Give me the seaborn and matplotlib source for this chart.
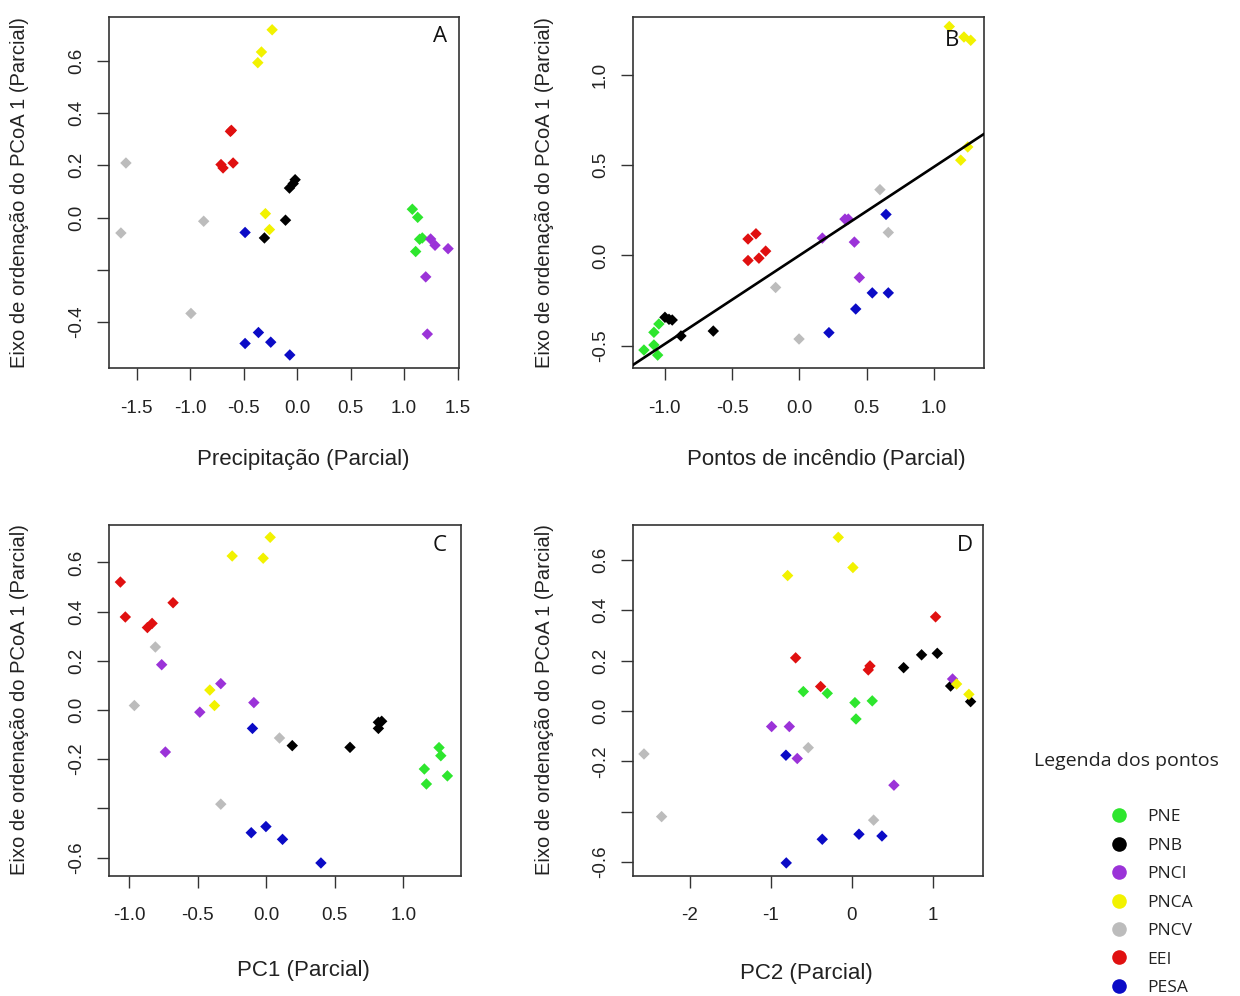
import matplotlib
matplotlib.use("Agg")
import matplotlib.pyplot as plt
from matplotlib.lines import Line2D
import pandas as pd
import seaborn as sns

# Sites (sampling areas) and their colours
SITES = ["PNE", "PNB", "PNCI", "PNCA", "PNCV", "EEI", "PESA"]
SITE_COLORS = ["#2ee62e", "#000000", "#9b33d8", "#f2f200", "#bcbcbc", "#e01010", "#0b0bc6"]
SITE_N = [5, 5, 5, 5, 4, 5, 5]

# Partial residuals, samples ordered PNE, PNB, PNCI, PNCA, PNCV, EEI, PESA
PREC_X = [1.077, 1.127, 1.145, 1.170, 1.108,
          -0.019, -0.037, -0.072, -0.109, -0.306,
          1.248, 1.289, 1.411, 1.202, 1.217,
          -0.234, -0.334, -0.368, -0.297, -0.259,
          -1.601, -0.874, -1.648, -0.993,
          -0.624, -0.615, -0.599, -0.712, -0.693,
          -0.487, -0.362, -0.487, -0.247, -0.069]
PREC_Y = [0.032, 0.001, -0.083, -0.078, -0.130,
          0.145, 0.130, 0.113, -0.010, -0.078,
          -0.082, -0.106, -0.119, -0.227, -0.446,
          0.719, 0.634, 0.593, 0.015, -0.046,
          0.209, -0.014, -0.059, -0.367,
          0.330, 0.334, 0.209, 0.203, 0.190,
          -0.057, -0.440, -0.482, -0.477, -0.526]

FIRE_X = [-1.154, -1.080, -1.052, -1.080, -1.043,
          -0.998, -0.968, -0.944, -0.879, -0.639,
          0.171, 0.339, 0.364, 0.409, 0.446,
          1.114, 1.223, 1.273, 1.199, 1.251,
          0.599, 0.661, -0.176, -0.002,
          -0.381, -0.322, -0.381, -0.300, -0.250,
          0.644, 0.542, 0.661, 0.419, 0.220]
FIRE_Y = [-0.523, -0.495, -0.551, -0.425, -0.379,
          -0.342, -0.353, -0.357, -0.445, -0.418,
          0.096, 0.201, 0.201, 0.074, -0.122,
          1.266, 1.208, 1.190, 0.527, 0.600,
          0.364, 0.127, -0.177, -0.462,
          0.091, 0.120, -0.028, -0.015, 0.024,
          0.227, -0.207, -0.207, -0.296, -0.427]
FIRE_FIT = (0.0, 0.49)  # intercept, slope of the partial regression line

PC1_X = [1.260, 1.273, 1.153, 1.321, 1.168,
         0.190, 0.611, 0.818, 0.842, 0.818,
         -0.762, -0.331, -0.484, -0.090, -0.735,
         0.029, -0.248, -0.022, -0.411, -0.377,
         -0.808, -0.961, 0.097, -0.331,
         -1.063, -1.027, -0.866, -0.832, -0.679,
         -0.100, -0.109, -0.002, 0.119, 0.399]
PC1_Y = [-0.153, -0.186, -0.240, -0.268, -0.301,
         -0.145, -0.152, -0.050, -0.046, -0.075,
         0.184, 0.107, -0.009, 0.030, -0.171,
         0.702, 0.626, 0.617, 0.081, 0.018,
         0.256, 0.018, -0.114, -0.383,
         0.520, 0.378, 0.335, 0.352, 0.436,
         -0.075, -0.499, -0.474, -0.526, -0.622]

PC2_X = [-0.597, -0.301, 0.041, 0.255, 0.054,
         0.643, 0.865, 1.059, 1.224, 1.471,
         -0.989, -0.770, -0.672, 1.248, 0.523,
         -0.165, -0.791, 0.016, 1.298, 1.450,
         -2.567, -2.349, -0.536, 0.272,
         1.038, -0.692, 0.227, 0.206, -0.383,
         -0.812, -0.808, -0.363, 0.091, 0.375]
PC2_Y = [0.077, 0.070, 0.033, 0.040, -0.032,
         0.172, 0.223, 0.229, 0.099, 0.037,
         -0.062, -0.062, -0.189, 0.127, -0.295,
         0.690, 0.538, 0.570, 0.107, 0.066,
         -0.171, -0.420, -0.146, -0.434,
         0.374, 0.211, 0.179, 0.163, 0.097,
         -0.176, -0.604, -0.510, -0.490, -0.497]

# Axis ticks and labels per panel ("" = tick without label)
A_XTICKS = [-1.5, -1.0, -0.5, 0.0, 0.5, 1.0, 1.5]
A_YTICKS = [-0.4, -0.2, 0.0, 0.2, 0.4, 0.6]
A_YLABELS = ["-0.4", "", "0.0", "0.2", "0.4", "0.6"]
B_XTICKS = [-1.0, -0.5, 0.0, 0.5, 1.0]
B_YTICKS = [-0.5, 0.0, 0.5, 1.0]
B_YLABELS = ["-0.5", "0.0", "0.5", "1.0"]
C_XTICKS = [-1.0, -0.5, 0.0, 0.5, 1.0]
C_YTICKS = [-0.6, -0.4, -0.2, 0.0, 0.2, 0.4, 0.6]
C_YLABELS = ["-0.6", "", "-0.2", "0.0", "0.2", "0.4", "0.6"]
D_XTICKS = [-2, -1, 0, 1]
D_YTICKS = [-0.6, -0.4, -0.2, 0.0, 0.2, 0.4, 0.6]
D_YLABELS = ["-0.6", "", "-0.2", "0.0", "0.2", "0.4", "0.6"]

Y_TITLE = "Eixo de ordenação do PCoA 1 (Parcial)"

W, H = 1240, 996
sns.set_style("ticks")
plt.rcParams["font.family"] = ["Liberation Sans", "DejaVu Sans"]
fig = plt.figure(figsize=(W / 100, H / 100), dpi=100)
palette = dict(zip(SITES, SITE_COLORS))
site_col = [s for s, n in zip(SITES, SITE_N) for _ in range(n)]


def fx(px):
    return px / W


def fy(py):
    return 1 - py / H


def panel(box, xs, ys, xlim, ylim, xticks, xticklabels, yticks, yticklabels,
          xlabel, xlabel_pos, ylabel_pos, letter, letter_pos):
    left, top, right, bottom = box
    ax = fig.add_axes([fx(left), fy(bottom), (right - left) / W, (bottom - top) / H])
    df = pd.DataFrame({"x": xs, "y": ys, "site": site_col})
    sns.scatterplot(data=df, x="x", y="y", hue="site", hue_order=SITES,
                    palette=palette, marker="D", s=34, linewidth=0,
                    legend=False, ax=ax, zorder=3)
    ax.set_xlim(*xlim)
    ax.set_ylim(*ylim)
    ax.set_xticks(xticks, labels=xticklabels)
    ax.set_yticks(yticks, labels=yticklabels, rotation=90, va="center")
    ax.tick_params(axis="both", direction="out", length=8.6, width=1.0,
                   color="#333333", labelsize=13.5, labelcolor="#222222")
    ax.tick_params(axis="x", pad=14)
    ax.tick_params(axis="y", pad=8.5)
    for sp in ax.spines.values():
        sp.set_visible(True)
        sp.set_linewidth(1.2)
        sp.set_color("#333333")
    ax.set_xlabel(xlabel, fontsize=16, color="#222222", va="center", ha="center")
    ax.xaxis.set_label_coords(fx(xlabel_pos[0]), fy(xlabel_pos[1]), transform=fig.transFigure)
    ax.set_ylabel(Y_TITLE, fontsize=14.5, color="#222222", va="center", ha="center")
    ax.yaxis.set_label_coords(fx(ylabel_pos[0]), fy(ylabel_pos[1]), transform=fig.transFigure)
    fig.text(fx(letter_pos[0]), fy(letter_pos[1]), letter, fontsize=16,
             family=["Open Sans", "DejaVu Sans"], color="#111111",
             ha="center", va="center")
    return ax


def fmt(ticks, digits=1):
    return [f"{t:.{digits}f}" for t in ticks]


panel((108.5, 17.5, 459.3, 368.3), PREC_X, PREC_Y, (-1.764, 1.516), (-0.577, 0.766),
      A_XTICKS, fmt(A_XTICKS), A_YTICKS, A_YLABELS,
      "Precipitação (Parcial)", (303, 459), (20, 193), "A", (440, 37))

axB = panel((632.5, 17.5, 984.3, 368.3), FIRE_X, FIRE_Y, (-1.239, 1.374), (-0.624, 1.316),
            B_XTICKS, fmt(B_XTICKS), B_YTICKS, B_YLABELS,
            "Pontos de incêndio (Parcial)", (826, 459), (545, 193), "B", (952, 40))
axB.axline((0, FIRE_FIT[0]), slope=FIRE_FIT[1], color="black", linewidth=1.9, zorder=4)

panel((109.0, 525, 460.7, 876), PC1_X, PC1_Y, (-1.146, 1.418), (-0.675, 0.752),
      C_XTICKS, fmt(C_XTICKS), C_YTICKS, C_YLABELS,
      "PC1 (Parcial)", (303, 970), (20, 700), "C", (440, 545))

panel((633.3, 525, 983.3, 876), PC2_X, PC2_Y, (-2.699, 1.628), (-0.656, 0.739),
      D_XTICKS, fmt(D_XTICKS, 0), D_YTICKS, D_YLABELS,
      "PC2 (Parcial)", (806, 973), (545, 700), "D", (965, 545))

# Site legend
fig.text(fx(1126), fy(761), "Legenda dos pontos", fontsize=14,
         family=["Open Sans", "DejaVu Sans"], color="#222222", ha="center", va="center")
handles = [Line2D([], [], linestyle="none", marker="o", markersize=10.5,
                  markerfacecolor=c, markeredgewidth=0) for c in SITE_COLORS]
fig.legend(handles, SITES, loc="upper left", bbox_to_anchor=(fx(1110), fy(809)),
           frameon=False, handlelength=1.0, handletextpad=1.15, labelspacing=0.71,
           borderpad=0, borderaxespad=0,
           prop={"family": ["Open Sans", "DejaVu Sans"], "size": 12.5},
           labelcolor="#222222")

fig.savefig("out.png", dpi=100, facecolor="white")
